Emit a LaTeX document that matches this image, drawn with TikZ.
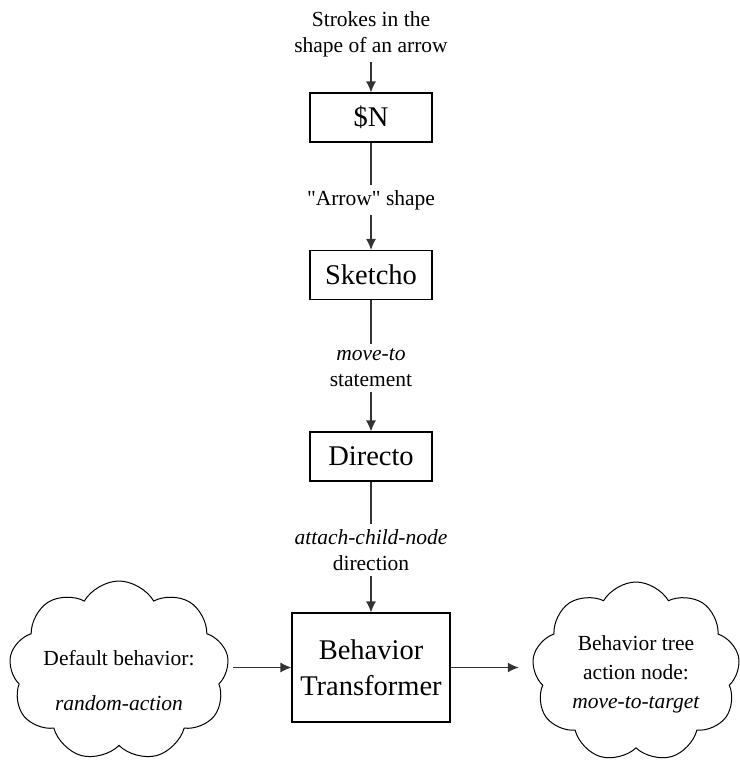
\documentclass[tikz,border=0pt]{standalone}
\usepackage{fontspec}
\setmainfont{Liberation Serif}
\usetikzlibrary{shapes.symbols,arrows.meta}
\begin{document}
\begin{tikzpicture}[x=1pt,y=-1pt,
  proc/.style={draw, line width=1.1pt, minimum width=122pt, minimum height=49pt,
    inner sep=0pt, align=center, font=\fontsize{28.5}{36}\selectfont},
  lbl/.style={align=center, inner xsep=2pt, inner ysep=5pt,
    font=\fontsize{21.5}{26}\selectfont},
  puff/.style={cloud, cloud puffs=9, cloud puff arc=120, cloud ignores aspect,
    draw, line width=1pt, minimum width=220pt, minimum height=180pt, inner sep=0pt},
  ctext/.style={align=center, inner sep=0pt, font=\fontsize{21.5}{29}\selectfont},
  conn/.style={line width=1.3pt, draw=black!80},
  flow/.style={conn, -{Latex[length=11pt,width=10pt]}},
]
\useasboundingbox (0,0) rectangle (739,763);

% main chain
\node[lbl] (src) at (371,34) {Strokes in the\\shape of an arrow};
\node[proc] (dn) at (371,117.5) {\$N};
\node[lbl] (l1) at (371,200) {\textquotedbl Arrow\textquotedbl{} shape};
\node[proc] (sk) at (371,275) {Sketcho};
\node[lbl] (l2) at (371,368) {\textit{move-to}\\statement};
\node[proc] (di) at (371,456.5) {Directo};
\node[lbl] (l3) at (371,550) {\textit{attach-child-node}\\direction};
\node[proc, minimum width=158pt, minimum height=109pt] (bt) at (371,667.5) {Behavior\\Transformer};

% side clouds
\node[puff] (cl) at (119,671) {};
\node[ctext, font=\fontsize{21.5}{45}\selectfont] (tl) at (119,681) {Default behavior:\\\textit{random-action}};
\node[puff, minimum width=208pt] (cr) at (636,672) {};
\node[ctext] (tr) at (636,674) {Behavior tree\\action node:\\\textit{move-to-target}};

% connectors
\draw[flow] (src) -- (dn);
\draw[conn] (dn) -- (l1);
\draw[flow] (l1) -- (sk);
\draw[conn] (sk) -- (l2);
\draw[flow] (l2) -- (di);
\draw[conn] (di) -- (l3);
\draw[flow] (l3) -- (bt);
\draw[flow, shorten <=6pt] (cl.east |- bt.west) -- (bt.west);
\draw[flow, shorten >=15pt] (bt.east) -- (cr.west |- bt.east);
\end{tikzpicture}
\end{document}
